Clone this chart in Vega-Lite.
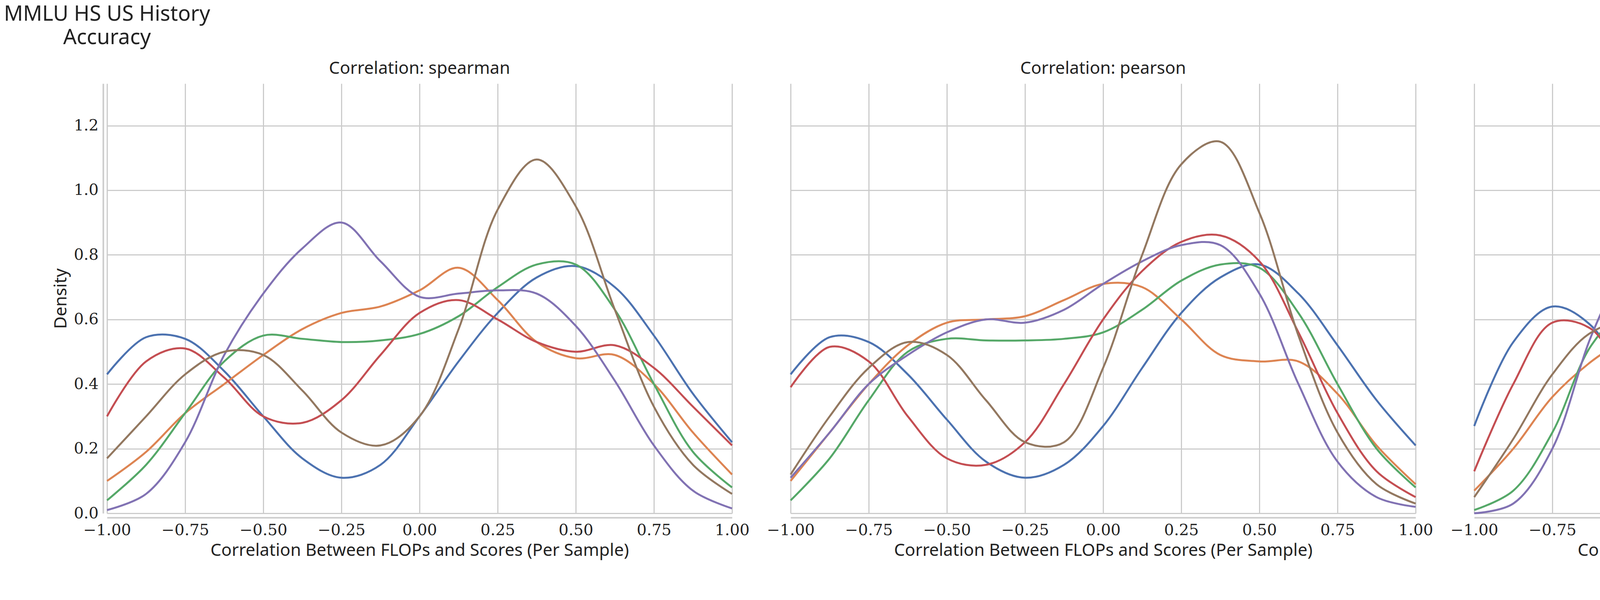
{
  "$schema": "https://vega.github.io/schema/vega-lite/v6.json",
  "background": "white",
  "padding": {"left": 10, "top": 10, "right": 10, "bottom": 10},
  "title": {"text": ["MMLU HS US History", "Accuracy"], "anchor": "middle", "frame": "group", "fontSize": 54, "font": "Noto Sans", "fontWeight": "normal", "color": "#222", "lineHeight": 60, "offset": 30},
  "data": {"values": [
    {"c": "spearman", "m": "Cerebras (Param. and Data Scaling)", "y": [0.43,0.545,0.54,0.44,0.30,0.17,0.11,0.15,0.30,0.47,0.62,0.73,0.765,0.70,0.55,0.37,0.22]},
    {"c": "spearman", "m": "INCITE 7B Param. (Data Scaling)", "y": [0.10,0.19,0.31,0.40,0.49,0.57,0.62,0.64,0.69,0.76,0.66,0.53,0.48,0.49,0.40,0.25,0.12]},
    {"c": "spearman", "m": "LLM360 Amber 7B Tokens (Param Scaling)", "y": [0.04,0.15,0.31,0.47,0.55,0.54,0.53,0.535,0.555,0.61,0.70,0.77,0.77,0.63,0.40,0.19,0.08]},
    {"c": "spearman", "m": "OLMo 7B Param. (Data Scaling)", "y": [0.30,0.47,0.51,0.42,0.30,0.28,0.35,0.49,0.62,0.66,0.60,0.53,0.50,0.52,0.45,0.33,0.21]},
    {"c": "spearman", "m": "Pythia 12B Param. (Data Scaling)", "y": [0.01,0.06,0.22,0.49,0.68,0.82,0.90,0.78,0.67,0.68,0.69,0.68,0.58,0.41,0.21,0.07,0.015]},
    {"c": "spearman", "m": "Pythia 300B Tokens (Param. Scaling)", "y": [0.17,0.30,0.43,0.50,0.49,0.38,0.25,0.21,0.30,0.57,0.94,1.095,0.95,0.63,0.33,0.15,0.06]},
    {"c": "pearson", "m": "Cerebras (Param. and Data Scaling)", "y": [0.43,0.545,0.53,0.43,0.29,0.16,0.11,0.15,0.27,0.45,0.62,0.73,0.77,0.68,0.52,0.35,0.21]},
    {"c": "pearson", "m": "INCITE 7B Param. (Data Scaling)", "y": [0.10,0.25,0.40,0.52,0.59,0.60,0.61,0.66,0.71,0.70,0.60,0.49,0.47,0.47,0.37,0.21,0.09]},
    {"c": "pearson", "m": "LLM360 Amber 7B Tokens (Param Scaling)", "y": [0.04,0.17,0.35,0.50,0.54,0.535,0.535,0.54,0.56,0.63,0.72,0.77,0.76,0.62,0.40,0.20,0.08]},
    {"c": "pearson", "m": "OLMo 7B Param. (Data Scaling)", "y": [0.39,0.515,0.47,0.30,0.17,0.15,0.22,0.40,0.60,0.75,0.84,0.86,0.78,0.56,0.31,0.13,0.05]},
    {"c": "pearson", "m": "Pythia 12B Param. (Data Scaling)", "y": [0.11,0.25,0.40,0.49,0.56,0.60,0.59,0.63,0.71,0.78,0.83,0.83,0.68,0.40,0.16,0.05,0.02]},
    {"c": "pearson", "m": "Pythia 300B Tokens (Param. Scaling)", "y": [0.12,0.30,0.45,0.53,0.49,0.35,0.22,0.22,0.45,0.80,1.08,1.15,0.93,0.55,0.25,0.09,0.03]},
    {"c": "kendall", "m": "Cerebras (Param. and Data Scaling)", "y": [0.27,0.53,0.64,0.58,0.38,0.19,0.13,0.19,0.37,0.60,0.78,0.87,0.85,0.66,0.41,0.21,0.10]},
    {"c": "kendall", "m": "INCITE 7B Param. (Data Scaling)", "y": [0.07,0.20,0.36,0.47,0.55,0.63,0.70,0.73,0.79,0.86,0.69,0.56,0.55,0.50,0.30,0.12,0.04]},
    {"c": "kendall", "m": "LLM360 Amber 7B Tokens (Param Scaling)", "y": [0.01,0.07,0.25,0.52,0.64,0.63,0.62,0.63,0.66,0.75,0.88,0.93,0.82,0.55,0.25,0.07,0.01]},
    {"c": "kendall", "m": "OLMo 7B Param. (Data Scaling)", "y": [0.13,0.40,0.59,0.57,0.39,0.32,0.45,0.67,0.77,0.77,0.64,0.57,0.59,0.57,0.35,0.13,0.03]},
    {"c": "kendall", "m": "Pythia 12B Param. (Data Scaling)", "y": [0.0,0.03,0.20,0.55,0.80,0.97,1.04,0.90,0.76,0.78,0.80,0.75,0.53,0.25,0.07,0.01,0.0]},
    {"c": "kendall", "m": "Pythia 300B Tokens (Param. Scaling)", "y": [0.05,0.23,0.43,0.56,0.59,0.44,0.28,0.27,0.56,0.99,1.26,1.20,0.83,0.40,0.13,0.03,0.01]}
  ]},
  "transform": [
    {"lookup": "c", "from": {"data": {"values": [
      {"c": "spearman", "x": [-1,-0.875,-0.75,-0.625,-0.5,-0.375,-0.25,-0.125,0,0.125,0.25,0.375,0.5,0.625,0.75,0.875,1]},
      {"c": "pearson", "x": [-1,-0.875,-0.75,-0.625,-0.5,-0.375,-0.25,-0.125,0,0.125,0.25,0.375,0.5,0.625,0.75,0.875,1]},
      {"c": "kendall", "x": [-1,-0.875,-0.75,-0.625,-0.5,-0.375,-0.25,-0.125,0,0.125,0.25,0.375,0.5,0.625,0.75,0.875,1]}
    ]}, "key": "c", "fields": ["x"]}},
    {"flatten": ["x", "y"]}
  ],
  "facet": {"column": {"field": "c", "type": "nominal", "sort": ["spearman", "pearson", "kendall"],
    "header": {"title": null, "labelExpr": "'Correlation: ' + datum.value", "labelFontSize": 44, "labelFont": "Noto Sans", "labelColor": "#222", "labelPadding": 16}}},
  "spacing": 130,
  "spec": {
    "width": 1600,
    "height": 1100,
    "mark": {"type": "line", "interpolate": "catmull-rom", "strokeWidth": 5},
    "encoding": {
      "x": {"field": "x", "type": "quantitative", "scale": {"domain": [-1, 1], "nice": false},
        "axis": {"values": [-1,-0.75,-0.5,-0.25,0,0.25,0.5,0.75,1], "format": ".2f", "title": "Correlation Between FLOPs and Scores (Per Sample)"}},
      "y": {"field": "y", "type": "quantitative", "scale": {"domain": [0, 1.33], "nice": false},
        "axis": {"values": [0,0.2,0.4,0.6,0.8,1.0,1.2], "format": ".1f", "title": "Density"}},
      "color": {"field": "m", "type": "nominal", "title": "Model Family",
        "scale": {"domain": ["Cerebras (Param. and Data Scaling)", "INCITE 7B Param. (Data Scaling)", "LLM360 Amber 7B Tokens (Param Scaling)", "OLMo 7B Param. (Data Scaling)", "Pythia 12B Param. (Data Scaling)", "Pythia 300B Tokens (Param. Scaling)"],
          "range": ["#4c72b0", "#dd8452", "#55a868", "#c44e52", "#8172b3", "#937860"]},
        "legend": {"orient": "right", "offset": 20, "symbolType": "stroke", "symbolStrokeWidth": 5, "symbolSize": 2500, "labelFontSize": 40, "titleFontSize": 44, "titleFontWeight": "normal", "titleAnchor": "middle", "labelFont": "Noto Sans", "titleFont": "Noto Sans", "rowPadding": 10, "titlePadding": 14, "labelColor": "#222", "titleColor": "#222", "labelLimit": 1100}}
    }
  },
  "config": {
    "view": {"stroke": null},
    "axis": {"grid": true, "gridColor": "#cccccc", "gridWidth": 3, "domainColor": "#cccccc", "domainWidth": 4, "ticks": false, "labelFont": "DejaVu Serif", "labelFontSize": 40, "labelColor": "#222", "labelPadding": 12, "titleFont": "Noto Sans", "titleFontSize": 44, "titleFontWeight": "normal", "titleColor": "#222", "titlePadding": 10},
    "axisX": {"labelFlush": false}
  }
}
